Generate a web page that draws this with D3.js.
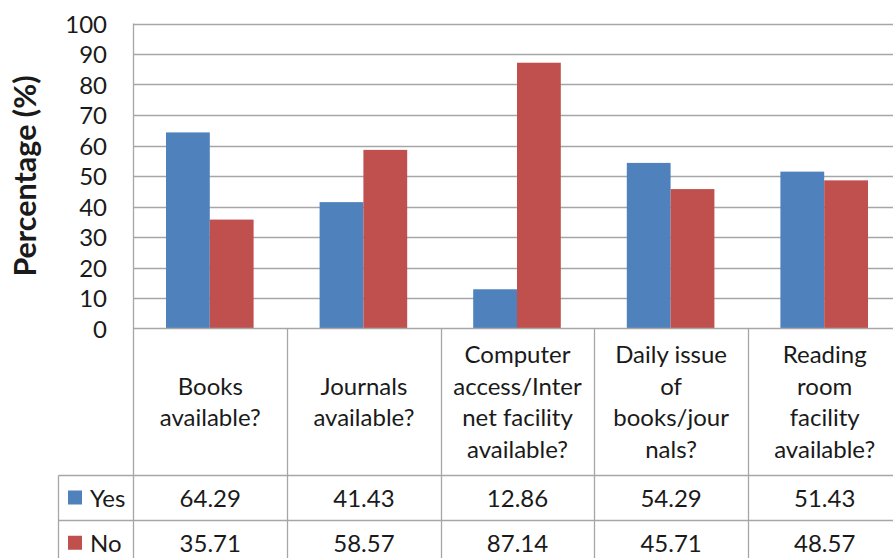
<!DOCTYPE html>
<html>
<head>
<meta charset="utf-8">
<script src="https://cdn.jsdelivr.net/npm/d3@7"></script>
<style>
  html, body { margin: 0; padding: 0; background: #fff; overflow: hidden; }
  svg { display: block; font-family: Lato, "Open Sans", sans-serif; }
</style>
</head>
<body>
<svg id="chart" width="893" height="558"></svg>
<script>
// ---- data ----
const categories = [
  "Books available?",
  "Journals available?",
  "Computer access/Internet facility available?",
  "Daily issue of books/journals?",
  "Reading room facility available?"
];
const categoryLines = [
  ["Books", "available?"],
  ["Journals", "available?"],
  ["Computer", "access/Inter", "net facility", "available?"],
  ["Daily issue", "of", "books/jour", "nals?"],
  ["Reading", "room", "facility", "available?"]
];
const seriesNames = ["Yes", "No"];
const yesValues = [64.29, 41.43, 12.86, 54.29, 51.43];
const noValues = [35.71, 58.57, 87.14, 45.71, 48.57];
const yTicks = [0, 10, 20, 30, 40, 50, 60, 70, 80, 90, 100];
const yTitle = "Percentage (%)";

const seriesValues = [yesValues, noValues];
const colors = ["#4F81BD", "#C0504D"];

// ---- layout ----
const svg = d3.select("#chart");
const plotLeft = 133.5, plotRight = 901.5, plotTop = 23.5, plotBottom = 328.5;
const headerBottom = 475.5, row1Bottom = 520.5, row2Bottom = 566;
const legendLeft = 58.5;
const gridColor = "#A6A6A6";
const textColor = "#1a1a1a";

const x0 = d3.scaleBand().domain(categories).range([plotLeft, plotRight]);
const bw = x0.bandwidth();
const x1 = d3.scaleBand().domain(seriesNames).range([32.5, bw - 33.5]);
const y = d3.scaleLinear().domain([0, 100]).range([plotBottom, plotTop]);

// gridlines
svg.append("g").selectAll("line").data(yTicks.filter(t => t > 0)).join("line")
  .attr("x1", plotLeft).attr("x2", 893)
  .attr("y1", d => Math.round(y(d)) + 0.5).attr("y2", d => Math.round(y(d)) + 0.5)
  .attr("stroke", gridColor).attr("stroke-width", 1.3);

// y tick labels via axis
const yAxis = d3.axisLeft(y).tickValues(yTicks).tickSize(0).tickPadding(0);
const gy = svg.append("g").attr("transform", `translate(107,0)`).call(yAxis);
gy.select(".domain").remove();
gy.selectAll("text").attr("font-size", 24).attr("fill", textColor)
  .attr("font-family", "Lato, sans-serif").attr("dy", "0.36em");

// y title
svg.append("text")
  .attr("transform", `translate(36,176) rotate(-90)`)
  .attr("text-anchor", "middle").attr("font-size", 30.5).attr("font-weight", "bold")
  .attr("fill", textColor).text(yTitle);

// bars
const groups = svg.append("g").selectAll("g").data(categories).join("g")
  .attr("transform", d => `translate(${x0(d)},0)`);
groups.selectAll("rect")
  .data((d, i) => seriesNames.map((s, j) => ({ s, v: seriesValues[j][i], j })))
  .join("rect")
  .attr("x", d => x1(d.s)).attr("width", x1.bandwidth())
  .attr("y", d => y(d.v)).attr("height", d => y(0) - y(d.v))
  .attr("fill", d => colors[d.j]);

// table lines
const lines = svg.append("g").attr("stroke", gridColor).attr("stroke-width", 1.3);
lines.append("line").attr("x1", plotLeft).attr("x2", plotLeft).attr("y1", plotTop).attr("y2", 558);
lines.append("line").attr("x1", plotLeft).attr("x2", 893).attr("y1", plotBottom).attr("y2", plotBottom);
lines.append("line").attr("x1", legendLeft).attr("x2", 893).attr("y1", headerBottom).attr("y2", headerBottom);
lines.append("line").attr("x1", legendLeft).attr("x2", 893).attr("y1", row1Bottom).attr("y2", row1Bottom);
lines.append("line").attr("x1", legendLeft).attr("x2", legendLeft).attr("y1", headerBottom).attr("y2", 558);
categories.slice(1).forEach(c => {
  const xx = Math.round(x0(c)) + 0.5;
  lines.append("line").attr("x1", xx).attr("x2", xx).attr("y1", plotBottom).attr("y2", 558);
});

// category labels
const lineH = 31.5;
categories.forEach((c, i) => {
  const ls = categoryLines[i];
  const cx = x0(c) + bw / 2;
  const cy = (plotBottom + headerBottom) / 2;
  const t = svg.append("text").attr("text-anchor", "middle").attr("font-size", 24).attr("fill", textColor);
  ls.forEach((l, k) => {
    t.append("tspan").attr("x", cx)
      .attr("y", cy + (k - (ls.length - 1) / 2) * lineH).attr("dy", "0.36em").text(l);
  });
});

// table values and legend
const rowCenters = [(headerBottom + row1Bottom) / 2, (row1Bottom + row2Bottom) / 2];
seriesNames.forEach((s, j) => {
  const cy = rowCenters[j];
  svg.append("rect").attr("x", 68).attr("y", cy - 7.5).attr("width", 14).attr("height", 14).attr("fill", colors[j]);
  svg.append("text").attr("x", 90).attr("y", cy).attr("dy", "0.36em")
    .attr("font-size", 24).attr("fill", textColor).text(s);
  categories.forEach((c, i) => {
    svg.append("text").attr("x", x0(c) + bw / 2).attr("y", cy).attr("dy", "0.36em")
      .attr("text-anchor", "middle").attr("font-size", 24).attr("fill", textColor)
      .text(seriesValues[j][i].toFixed(2));
  });
});
</script>
</body>
</html>
